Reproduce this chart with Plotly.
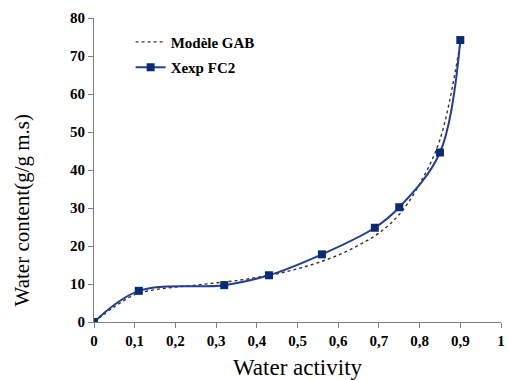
import plotly.graph_objects as go

# Experimental data (Xexp FC2)
aw_exp = [0.0, 0.11, 0.32, 0.43, 0.56, 0.69, 0.75, 0.85, 0.90]
x_exp = [0.0, 8.2, 9.7, 12.3, 17.8, 24.8, 30.2, 44.6, 74.2]

# GAB model curve
aw_gab = [0.0, 0.05, 0.10, 0.15, 0.20, 0.25, 0.30, 0.35, 0.40, 0.45, 0.50,
          0.55, 0.60, 0.65, 0.70, 0.75, 0.80, 0.85, 0.90]
x_gab = [0.0, 4.0, 7.2, 8.5, 9.2, 9.7, 10.3, 10.9, 11.7, 12.7, 14.0,
         15.6, 17.6, 20.2, 23.4, 28.3, 36.3, 48.0, 73.5]

x_ticks = [0, 0.1, 0.2, 0.3, 0.4, 0.5, 0.6, 0.7, 0.8, 0.9, 1]
x_tick_labels = ["0", "0,1", "0,2", "0,3", "0,4", "0,5", "0,6", "0,7", "0,8", "0,9", "1"]
y_ticks = [0, 10, 20, 30, 40, 50, 60, 70, 80]

serif = "Liberation Serif, Times New Roman, serif"

fig = go.Figure()
fig.add_trace(go.Scatter(
    x=aw_gab, y=x_gab, mode="lines", name="Modèle GAB", legendgroup="g1",
    line=dict(color="#333333", width=1.4, dash="dot", shape="spline"),
))
fig.add_trace(go.Scatter(
    x=aw_exp, y=x_exp, mode="lines+markers", name="Xexp FC2", legendgroup="g2",
    line=dict(color="#23408E", width=2, shape="spline", smoothing=1.0),
    marker=dict(symbol="square", size=8, color="#0B2A70"),
))

fig.update_layout(
    width=508, height=380,
    margin=dict(l=94, r=7, t=18, b=58, autoexpand=False),
    paper_bgcolor="white", plot_bgcolor="white",
    font=dict(family=serif, color="black"),
    showlegend=True,
    legend=dict(
        x=0.09, y=0.975, xanchor="left", yanchor="top",
        bgcolor="rgba(0,0,0,0)",
        font=dict(family=serif, size=15, color="black", weight="bold"),
        itemwidth=30, tracegroupgap=3,
    ),
    xaxis=dict(
        range=[0, 1], tickvals=x_ticks, ticktext=x_tick_labels,
        showgrid=False, zeroline=False, automargin=False,
        showline=True, linecolor="#7f7f7f", linewidth=1,
        ticks="outside", ticklen=5, tickcolor="#7f7f7f",
        tickfont=dict(family=serif, size=15, color="black", weight="bold"),
        title=dict(text="Water activity", font=dict(family=serif, size=23, color="black"),
                   standoff=10),
    ),
    yaxis=dict(
        range=[0, 80], tickvals=y_ticks,
        showgrid=False, zeroline=False, automargin=False,
        showline=True, linecolor="#7f7f7f", linewidth=1,
        ticks="outside", ticklen=5, tickcolor="#7f7f7f",
        tickfont=dict(family=serif, size=15, color="black", weight="bold"),
    ),
    annotations=[dict(
        text="Water content(g/g m.s)", textangle=-90,
        xref="paper", yref="paper", x=-0.177, y=0.37,
        xanchor="center", yanchor="middle", showarrow=False,
        font=dict(family=serif, size=21, color="black"),
    )],
)

fig.write_html("out.html", config={"displayModeBar": False},
               post_script="document.body.style.margin='0';")
